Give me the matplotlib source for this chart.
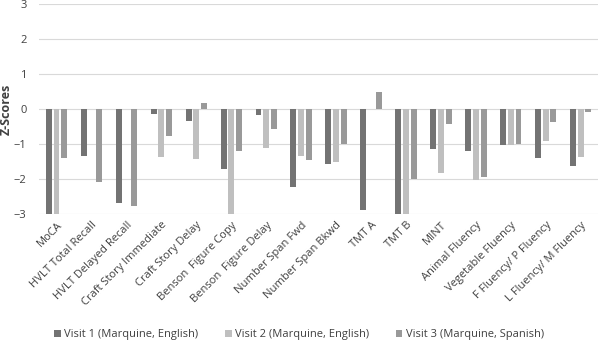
import numpy as np
import matplotlib.pyplot as plt

categories = ['MoCA', 'HVLT Total Recall', 'HVLT Delayed Recall', 'Craft Story Immediate',
              'Craft Story Delay', 'Benson  Figure Copy', 'Benson  Figure Delay', 'Number Span Fwd',
              'Number Span Bkwd', 'TMT A', 'TMT B', 'MINT', 'Animal Fluency',
              'Vegetable Fluency', 'F Fluency/ P Fluency', 'L Fluency/ M Fluency']

visit1 = [-3.0, -1.35, -2.67, -0.15, -0.35, -1.71, -0.17, -2.22,
          -1.56, -2.88, -3.0, -1.15, -1.20, -1.03, -1.40, -1.64]
visit2 = [-3.0, np.nan, np.nan, -1.37, -1.42, -3.0, -1.10, -1.33,
          -1.52, np.nan, -3.0, -1.84, -2.03, -1.03, -0.91, -1.36]
visit3 = [-1.39, -2.07, -2.78, -0.76, 0.18, -1.21, -0.57, -1.46,
          -1.01, 0.47, -1.99, -0.43, -1.94, -0.99, -0.37, -0.10]

labels = ['Visit 1 (Marquine, English)', 'Visit 2 (Marquine, English)',
          'Visit 3 (Marquine, Spanish)']
colors = ['#737373', '#bfbfbf', '#999999']

plt.rcParams['font.family'] = ['Open Sans', 'DejaVu Sans']

fig = plt.figure(figsize=(6, 3.41), dpi=100)
ax = fig.add_axes([0.065, 0.372, 0.932, 0.617])

x = np.arange(len(categories))
w = 0.17
off = 0.22
for i, (vals, lab, c) in enumerate(zip([visit1, visit2, visit3], labels, colors)):
    ax.bar(x + (i - 1) * off, vals, width=w, color=c, label=lab, zorder=3)

ax.set_ylim(-3, 3)
ax.set_xlim(-0.5, len(categories) - 0.5)
ax.set_yticks(range(-3, 4))
ax.yaxis.grid(True, color='#d9d9d9', linewidth=0.8, zorder=0)
for s in ax.spines.values():
    s.set_visible(False)
ax.tick_params(axis='both', length=0, labelsize=8, colors='#404040')
ax.tick_params(axis='y', pad=9)
ax.set_xticks(x)
ax.set_xticklabels(categories, rotation=45, ha='right', rotation_mode='anchor')
ax.tick_params(axis='x', pad=4)
ax.set_ylabel('Z-Scores', fontsize=9, fontweight='bold', color='#404040', labelpad=1)

ax.legend(loc='center', bbox_to_anchor=(0.465, -0.572), ncol=3, frameon=False,
          fontsize=8, handlelength=0.6, handleheight=0.6, handletextpad=0.3,
          columnspacing=2.4, labelcolor='#404040')

fig.savefig('out.png', dpi=100)
